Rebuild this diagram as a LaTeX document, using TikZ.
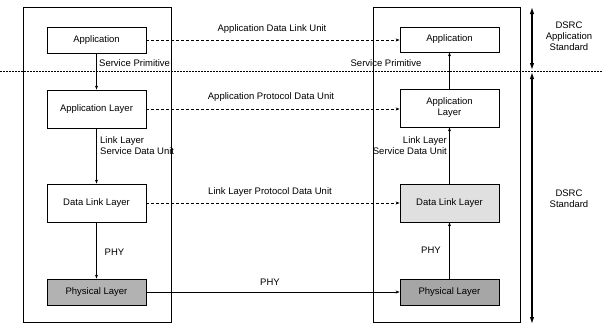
\documentclass[tikz,border=0pt]{standalone}
\usepackage{fontspec}
\setmainfont{Liberation Sans}
\usetikzlibrary{arrows.meta}
\begin{document}
\begin{tikzpicture}[x=1pt,y=-1pt,
  box/.style={draw, line width=0.8pt, rectangle, minimum width=99pt, minimum height=26pt, inner sep=0pt, align=center, font=\fontsize{9.5}{11}\selectfont},
  tallbox/.style={box, minimum height=38pt},
  lbl/.style={inner sep=0pt, font=\fontsize{9.5}{11}\selectfont},
  outer/.style={draw, line width=0.6pt},
  arr/.style={line width=0.7pt, -{Stealth[length=4pt,width=3pt]}},
  dasharr/.style={arr, dash pattern=on 3pt off 2pt},
  bigarr/.style={line width=1.2pt, {Latex[length=7pt,width=4.5pt]}-{Latex[length=7pt,width=4.5pt]}}
]
\useasboundingbox (0,0) rectangle (603,327);
% outer boxes
\draw[outer] (23,7) rectangle (171,322);
\draw[outer] (373,7) rectangle (520,322);
% separator
\draw[line width=0.6pt, dash pattern=on 2pt off 1pt] (0,71) -- (603,71);
% left stack
\node[box] (la) at (96.5,40) {Application};
\node[tallbox] (lal) at (96.5,109) {Application Layer};
\node[tallbox] (ldl) at (96.5,203) {Data Link Layer};
\node[box, fill=black!30] (lph) at (96.5,292) {Physical Layer};
% right stack
\node[box, minimum height=25pt] (ra) at (449.5,39.5) {Application};
\node[tallbox] (ral) at (449.5,108) {Application\\Layer};
\node[tallbox, fill=black!12] (rdl) at (449.5,203) {Data Link Layer};
\node[box, fill=black!35] (rph) at (449.5,292) {Physical Layer};
% vertical connectors
\draw[arr] (la.south) -- (lal.north);
\draw[arr] (lal.south) -- (ldl.north);
\draw[arr] (ldl.south) -- (lph.north);
\draw[arr] (ral.north) -- (ra.south);
\draw[arr] (rdl.north) -- (ral.south);
\draw[arr] (rph.north) -- (rdl.south);
% horizontal connectors
\draw[dasharr] (la.east) -- (ra.west |- la.east);
\draw[dasharr] (lal.east) -- (ral.west |- lal.east);
\draw[dasharr] (ldl.east) -- (rdl.west |- ldl.east);
\draw[arr] (lph.east) -- (rph.west |- lph.east);
% labels
\node[lbl] (t1) at (272,29) {Application Data Link Unit};
\node[lbl] (t2) at (271,97) {Application Protocol Data Unit};
\node[lbl] (t3) at (270,192) {Link Layer Protocol Data Unit};
\node[lbl] (t4) at (270,282) {PHY};
\node[lbl, anchor=west] (s1) at (99,63) {Service Primitive};
\node[lbl] (s2) at (386,63) {Service Primitive};
\node[lbl, anchor=west, align=left] (s3) at (100,145.5) {Link Layer\\Service Data Unit};
\node[lbl, anchor=east, align=right] (s4) at (447,145.5) {Link Layer\\Service Data Unit};
\node[lbl] (p1) at (114.5,252) {PHY};
\node[lbl] (p2) at (431,250) {PHY};
% standards
\coordinate (at) at (532,7);
\coordinate (am1) at (532,70);
\coordinate (am2) at (532,72);
\coordinate (ab) at (532,324);
\draw[bigarr] (at) -- (am1);
\draw[bigarr] (am2) -- (ab);
\node[lbl, align=center] (d1) at (569,36) {DSRC\\Application\\Standard};
\node[lbl, align=center] (d2) at (569,198.5) {DSRC\\Standard};
\end{tikzpicture}
\end{document}
